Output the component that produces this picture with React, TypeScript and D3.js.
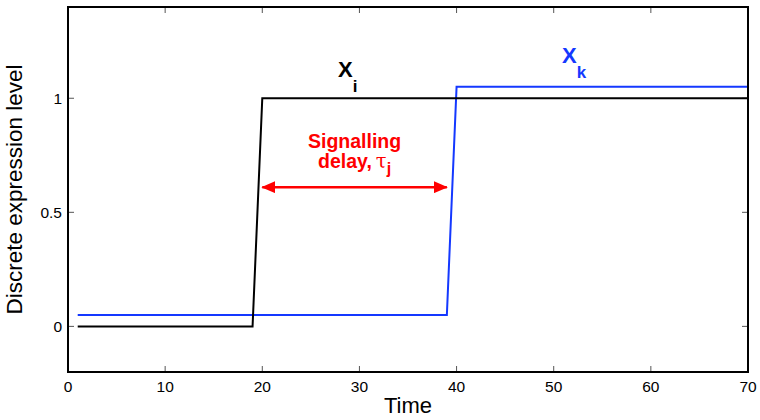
import React from "react";
import * as d3 from "d3";

// step traces
const timeI = [1, 19, 20, 70];
const levelI = [0, 0, 1, 1];
const timeK = [1, 39, 40, 70];
const levelK = [0.05, 0.05, 1.05, 1.05];
const xTicks = [0, 10, 20, 30, 40, 50, 60, 70];
const yTicks = [0, 0.5, 1];
const delayStart = 20;
const delayEnd = 39;
const delayLevel = 0.61;

const W = 760,
  H = 420;
const margin = { left: 68, right: 12, top: 7, bottom: 48 };
const font = "'Liberation Sans', Arial, Helvetica, sans-serif";
const blue = "#1438ff";
const red = "#ff0000";

const App = () => {
  const x = d3
    .scaleLinear()
    .domain([0, 70])
    .range([margin.left, W - margin.right]);
  const y = d3
    .scaleLinear()
    .domain([-0.2, 1.4])
    .range([H - margin.bottom, margin.top]);

  const line = d3
    .line<[number, number]>()
    .x((d) => x(d[0]))
    .y((d) => y(d[1]));

  const pathI = line(timeI.map((t, i) => [t, levelI[i]]));
  const pathK = line(timeK.map((t, i) => [t, levelK[i]]));

  const x0 = x.range()[0],
    x1 = x.range()[1];
  const y0 = y.range()[0],
    y1 = y.range()[1];
  const tick = 6;
  const ay = y(delayLevel);
  const mid = x((delayStart + delayEnd) / 2);

  return (
    <svg
      width={W}
      height={H}
      style={{ position: "absolute", left: 0, top: 0, background: "#fff" }}
      fontFamily={font}
    >
      <defs>
        <marker
          id="head"
          viewBox="0 0 14 12"
          refX={13}
          refY={6}
          markerWidth={14}
          markerHeight={12}
          markerUnits="userSpaceOnUse"
          orient="auto-start-reverse"
        >
          <path d="M0,0 L14,6 L0,12 Z" fill={red} />
        </marker>
      </defs>

      {/* ticks, mirrored on all sides */}
      {xTicks.map((t) => (
        <g key={"x" + t} stroke="#555" strokeWidth={1}>
          <line x1={x(t)} x2={x(t)} y1={y0} y2={y0 - tick} />
          <line x1={x(t)} x2={x(t)} y1={y1} y2={y1 + tick} />
        </g>
      ))}
      {yTicks.map((t) => (
        <g key={"y" + t} stroke="#555" strokeWidth={1}>
          <line x1={x0} x2={x0 + tick} y1={y(t)} y2={y(t)} />
          <line x1={x1} x2={x1 - tick} y1={y(t)} y2={y(t)} />
        </g>
      ))}

      <path d={pathK!} fill="none" stroke={blue} strokeWidth={2} />
      <path d={pathI!} fill="none" stroke="#000" strokeWidth={2} />

      <rect
        x={x0}
        y={y1}
        width={x1 - x0}
        height={y0 - y1}
        fill="none"
        stroke="#000"
        strokeWidth={2}
      />

      {/* tick labels */}
      {xTicks.map((t) => (
        <text
          key={"xl" + t}
          x={x(t)}
          y={y0 + 20}
          textAnchor="middle"
          fontSize={15.5}
          fill="#000"
        >
          {t}
        </text>
      ))}
      {yTicks.map((t) => (
        <text
          key={"yl" + t}
          x={x0 - 6}
          y={y(t) + 6}
          textAnchor="end"
          fontSize={15.5}
          fill="#000"
        >
          {t}
        </text>
      ))}

      <text x={(x0 + x1) / 2} y={H - 7} textAnchor="middle" fontSize={22}>
        Time
      </text>
      <text
        transform={`translate(22,${(y0 + y1) / 2}) rotate(-90)`}
        textAnchor="middle"
        fontSize={22.5}
      >
        Discrete expression level
      </text>

      {/* delay arrow */}
      <line
        x1={x(delayStart)}
        x2={x(delayEnd)}
        y1={ay}
        y2={ay}
        stroke={red}
        strokeWidth={2.5}
        markerStart="url(#head)"
        markerEnd="url(#head)"
      />
      <text
        x={mid}
        y={ay - 39}
        textAnchor="middle"
        fontSize={19.5}
        fontWeight="bold"
        fill={red}
      >
        Signalling
      </text>
      <text
        x={mid}
        y={ay - 19}
        textAnchor="middle"
        fontSize={19.5}
        fontWeight="bold"
        fill={red}
      >
        delay,
        <tspan fontWeight="normal" fontFamily="'DejaVu Serif', serif" dx={4}>
          τ
        </tspan>
        <tspan fontSize={16} dy={6}>
          j
        </tspan>
      </text>

      {/* series labels */}
      <text x={x(27.8)} y={y(1.092)} fontSize={22} fontWeight="bold" fill="#000">
        X
        <tspan fontSize={17} dy={15}>
          i
        </tspan>
      </text>
      <text x={x(50.85)} y={y(1.153)} fontSize={22} fontWeight="bold" fill={blue}>
        X
        <tspan fontSize={17} dy={15}>
          k
        </tspan>
      </text>
    </svg>
  );
};

export default App;
